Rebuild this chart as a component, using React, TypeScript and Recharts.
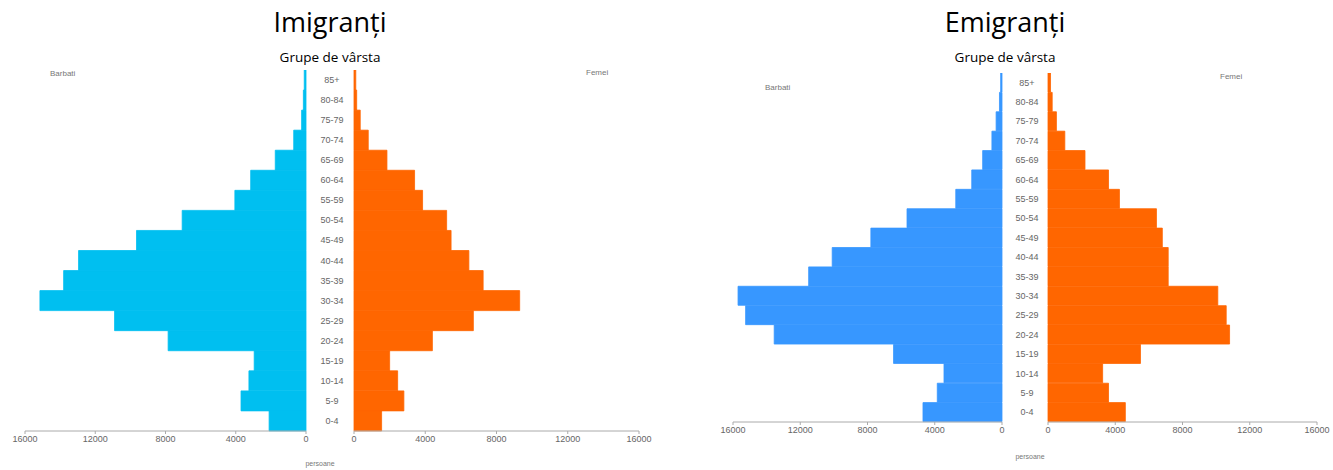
import React from "react";
import { Bar, BarChart, XAxis, YAxis } from "recharts";

// age groups, top of the pyramid first
const ageGroups = [
  "85+", "80-84", "75-79", "70-74", "65-69", "60-64", "55-59", "50-54", "45-49",
  "40-44", "35-39", "30-34", "25-29", "20-24", "15-19", "10-14", "5-9", "0-4"
];

const immigrantMen = [100, 150, 250, 700, 1750, 3150, 4050, 7050, 9650, 12950, 13800, 15150, 10900, 7850, 2950, 3250, 3700, 2100];
const immigrantWomen = [100, 150, 350, 800, 1850, 3400, 3850, 5200, 5450, 6450, 7250, 9300, 6700, 4400, 2000, 2450, 2800, 1550];
const emigrantMen = [80, 150, 350, 600, 1150, 1800, 2750, 5650, 7800, 10100, 11500, 15700, 15250, 13550, 6450, 3450, 3850, 4700];
const emigrantWomen = [150, 250, 500, 1000, 2200, 3600, 4250, 6450, 6800, 7150, 7150, 10100, 10600, 10800, 5500, 3250, 3600, 4600];

const xTicks = [0, 4000, 8000, 12000, 16000];

const rowsOf = (values: number[]) => ageGroups.map((group, i) => ({ group, value: values[i] }));

const tickStyle = { fill: "#666", fontSize: 9, fontFamily: "Liberation Sans, Arial, sans-serif" };
const smallText = { fill: "#777", fontSize: 8, fontFamily: "Liberation Sans, Arial, sans-serif" };

type HalfProps = {
  values: number[];
  color: string;
  left: number;
  top: number;
  plotWidth: number;
  plotHeight: number;
  reversed?: boolean;
  labelGap?: number;
};

function Half({ values, color, left, top, plotWidth, plotHeight, reversed, labelGap = 0 }: HalfProps) {
  const padLeft = reversed ? 20 : 10;
  const padRight = reversed ? 0 : 20;
  const width = padLeft + plotWidth + labelGap + padRight;
  const height = plotHeight + 26;

  const ageTick = ({ x, y, payload }: any) => (
    <text x={x + labelGap / 2} y={y} dy={3} textAnchor="middle" style={tickStyle}>
      {payload.value}
    </text>
  );

  return (
    <div style={{ position: "absolute", left: left - padLeft, top }}>
      <BarChart
        width={width}
        height={height}
        data={rowsOf(values)}
        layout="vertical"
        barCategoryGap={0}
        margin={{ top: 0, right: padRight, bottom: 0, left: padLeft }}
      >
        <XAxis
          type="number"
          domain={[0, 16000]}
          ticks={xTicks}
          reversed={reversed}
          interval={0}
          height={26}
          tickSize={3}
          stroke="#aaa"
          tick={tickStyle}
        />
        <YAxis
          type="category"
          dataKey="group"
          orientation="right"
          hide={!reversed}
          width={labelGap}
          tickSize={0}
          tickLine={false}
          axisLine={false}
          interval={0}
          tick={ageTick}
        />
        <Bar dataKey="value" fill={color} stroke={color} strokeWidth={0.8} isAnimationActive={false} />
      </BarChart>
    </div>
  );
}

type PanelProps = {
  title: string;
  center: number;
  men: number[];
  women: number[];
  menColor: string;
  menLeft: number;
  menWidth: number;
  womenLeft: number;
  womenWidth: number;
  top: number;
  plotHeight: number;
  menLabel: [number, number];
  womenLabel: [number, number];
  unitLabel: [number, number];
};

function Panel(p: PanelProps) {
  const gap = p.womenLeft - (p.menLeft + p.menWidth);
  return (
    <>
      <div
        style={{
          position: "absolute",
          left: p.center - 150,
          width: 300,
          top: 4,
          textAlign: "center",
          fontFamily: "Open Sans, sans-serif",
          color: "#000"
        }}
      >
        <div style={{ fontSize: 27, lineHeight: "36px" }}>{p.title}</div>
        <div style={{ fontSize: 13.5, lineHeight: "16px", marginTop: 9 }}>Grupe de vârsta</div>
      </div>
      <Half
        values={p.men}
        color={p.menColor}
        left={p.menLeft}
        top={p.top}
        plotWidth={p.menWidth}
        plotHeight={p.plotHeight}
        reversed
        labelGap={gap}
      />
      <Half
        values={p.women}
        color="#ff6600"
        left={p.womenLeft}
        top={p.top}
        plotWidth={p.womenWidth}
        plotHeight={p.plotHeight}
      />
      <svg style={{ position: "absolute", left: 0, top: 0, pointerEvents: "none" }} width={1333} height={470}>
        <text x={p.menLabel[0]} y={p.menLabel[1]} style={smallText}>Barbati</text>
        <text x={p.womenLabel[0]} y={p.womenLabel[1]} style={smallText}>Femei</text>
        <text x={p.unitLabel[0]} y={p.unitLabel[1]} textAnchor="middle" style={{ ...smallText, fontSize: 7 }}>persoane</text>
      </svg>
    </>
  );
}

export default function App() {
  return (
    <div style={{ position: "relative", width: 1333, height: 470, background: "#fff", overflow: "hidden" }}>
      <style>{"body{margin:0}"}</style>
      <Panel
        title="Imigranți"
        center={330}
        men={immigrantMen}
        women={immigrantWomen}
        menColor="#00bff0"
        menLeft={25}
        menWidth={281}
        womenLeft={354}
        womenWidth={285}
        top={70}
        plotHeight={361}
        menLabel={[50, 76]}
        womenLabel={[586, 75]}
        unitLabel={[320, 466]}
      />
      <Panel
        title="Emigranți"
        center={1005}
        men={emigrantMen}
        women={emigrantWomen}
        menColor="#3797ff"
        menLeft={733}
        menWidth={269}
        womenLeft={1048}
        womenWidth={269}
        top={73}
        plotHeight={349}
        menLabel={[765, 90]}
        womenLabel={[1220, 79]}
        unitLabel={[1030, 459]}
      />
    </div>
  );
}
